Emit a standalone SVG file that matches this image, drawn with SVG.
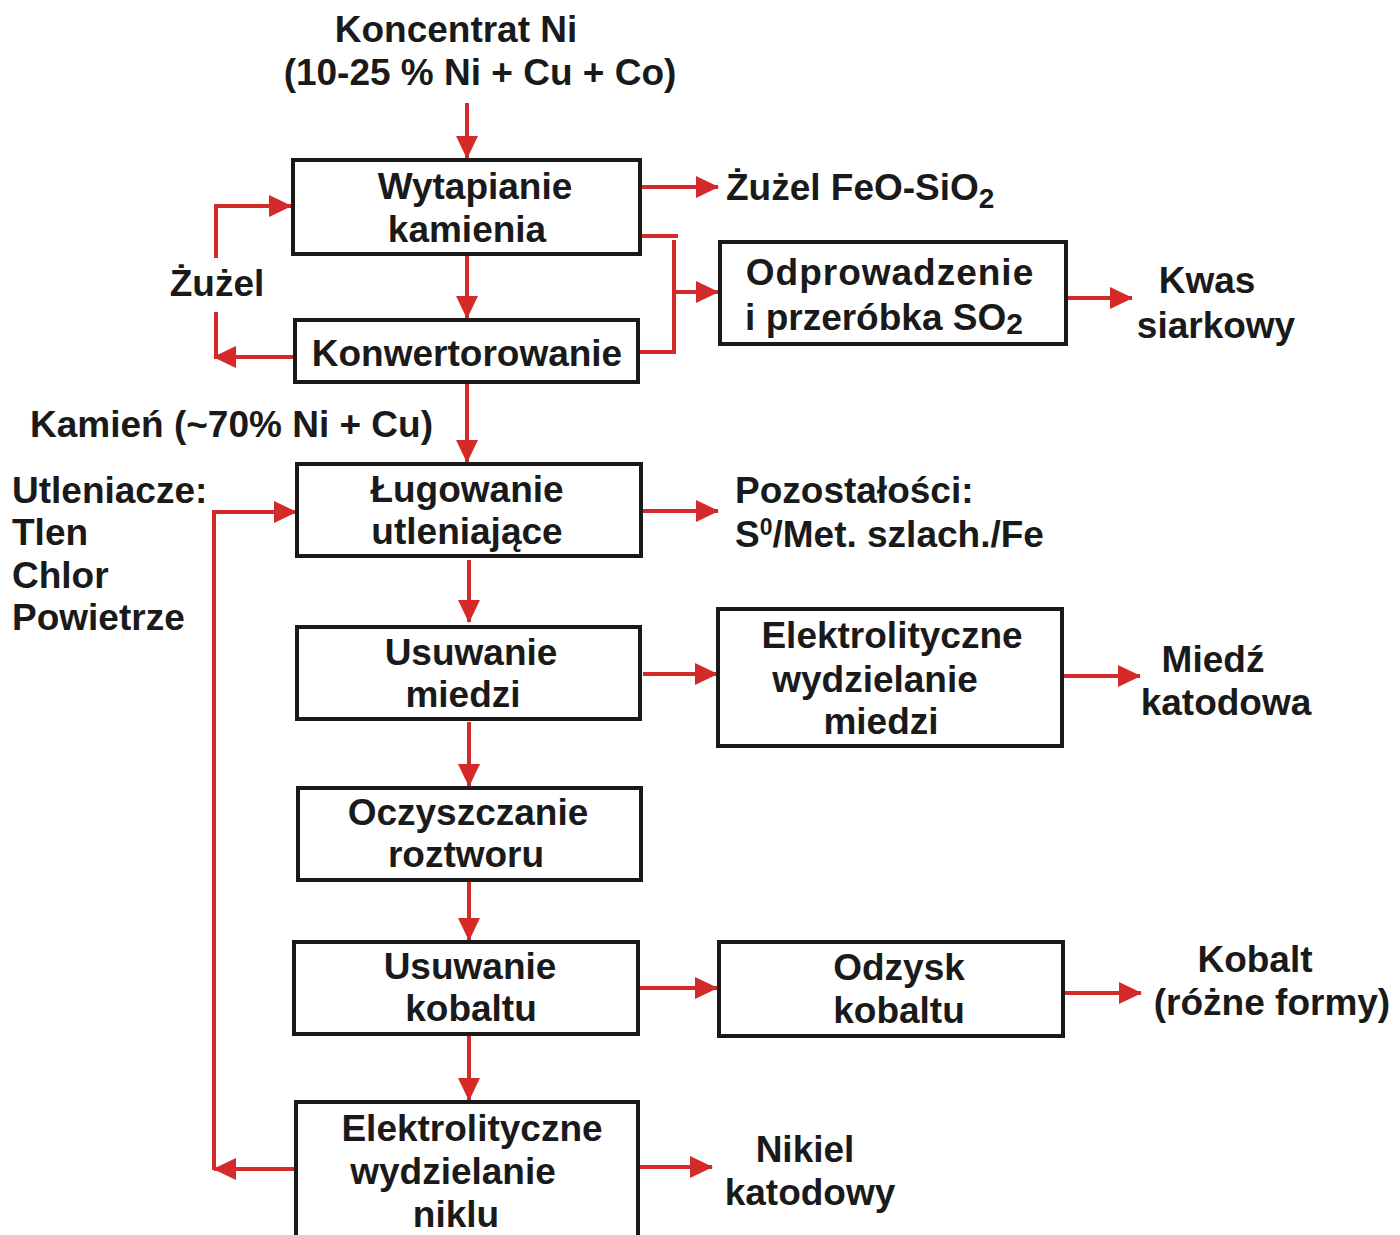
<svg xmlns="http://www.w3.org/2000/svg" width="1400" height="1235" viewBox="0 0 1400 1235">
<defs>
<marker id="ah" markerUnits="userSpaceOnUse" markerWidth="24" markerHeight="22" refX="22" refY="11" orient="auto">
<path d="M0,0 L23,11 L0,22 z" fill="#d42a2a"/>
</marker>
<style>
.box{fill:#fff;stroke:#1a1a1a;stroke-width:4}
.t{font-family:"Liberation Sans",Arial,sans-serif;font-weight:bold;font-size:37px;fill:#1a1a1a}
.c{text-anchor:middle}
.ln{fill:none;stroke:#d42a2a;stroke-width:4}
.ar{fill:none;stroke:#d42a2a;stroke-width:4;marker-end:url(#ah)}
</style>
</defs>
<rect width="1400" height="1235" fill="#fff"/>

<g id="connectors">
<line class="ar" x1="467" y1="103" x2="467" y2="158"/>
<line class="ar" x1="467" y1="256" x2="467" y2="318"/>
<line class="ar" x1="467" y1="384" x2="467" y2="462"/>
<line class="ar" x1="469" y1="560" x2="469" y2="622"/>
<line class="ar" x1="469" y1="722" x2="469" y2="786"/>
<line class="ar" x1="469" y1="882" x2="469" y2="940"/>
<line class="ar" x1="469" y1="1036" x2="469" y2="1100"/>
<line class="ar" x1="642" y1="187" x2="718" y2="187"/>
<polyline class="ln" points="642,236 678,236"/>
<polyline class="ln" points="640,352 674,352 674,240"/>
<line class="ar" x1="674" y1="292" x2="718" y2="292"/>
<line class="ar" x1="1058" y1="298" x2="1132" y2="298"/>
<polyline class="ln" points="216,258 216,206"/>
<line class="ar" x1="214" y1="206" x2="291" y2="206"/>
<polyline class="ln" points="216,312 216,358"/>
<line class="ar" x1="293" y1="357" x2="214" y2="357"/>
<line class="ar" x1="643" y1="511" x2="718" y2="511"/>
<line class="ar" x1="643" y1="674" x2="717" y2="674"/>
<line class="ar" x1="1064" y1="676" x2="1140" y2="676"/>
<line class="ar" x1="640" y1="988" x2="717" y2="988"/>
<line class="ar" x1="1065" y1="993" x2="1141" y2="993"/>
<line class="ar" x1="640" y1="1167" x2="712" y2="1167"/>
<polyline class="ar" points="214,1170 214,512 296,512"/>
<line class="ar" x1="296" y1="1169" x2="214" y2="1169"/>
</g>

<g id="n-input">
<text class="t c" x="456" y="42">Koncentrat Ni</text>
<text class="t c" x="480" y="85">(10-25 % Ni + Cu + Co)</text>
</g>
<g id="n-wytapianie">
<rect class="box" x="293" y="160" width="347" height="94"/>
<text class="t c" x="475" y="199">Wytapianie</text>
<text class="t c" x="467" y="242">kamienia</text>
</g>
<g id="n-konwertorowanie">
<rect class="box" x="295" y="320" width="343" height="62"/>
<text class="t c" x="467" y="366">Konwertorowanie</text>
</g>
<g id="n-zuzel-feo">
<text class="t" x="726" y="200">Żużel FeO-SiO<tspan font-size="28" dy="8">2</tspan></text>
</g>
<g id="n-odprowadzenie">
<rect class="box" x="720" y="242" width="346" height="102"/>
<text class="t c" x="890" y="285" letter-spacing="1">Odprowadzenie</text>
<text class="t c" x="884" y="330">i przeróbka SO<tspan font-size="30" dy="4">2</tspan></text>
</g>
<g id="n-kwas">
<text class="t c" x="1207" y="293">Kwas</text>
<text class="t c" x="1216" y="338">siarkowy</text>
</g>
<g id="n-zuzel">
<text class="t c" x="217" y="296">Żużel</text>
</g>
<g id="n-kamien">
<text class="t" x="30" y="437">Kamień (~70% Ni + Cu)</text>
</g>
<g id="n-utleniacze">
<text class="t" x="12" y="503">Utleniacze:</text>
<text class="t" x="12" y="545">Tlen</text>
<text class="t" x="12" y="588">Chlor</text>
<text class="t" x="12" y="630">Powietrze</text>
</g>
<g id="n-lugowanie">
<rect class="box" x="297" y="464" width="344" height="92"/>
<text class="t c" x="467" y="502">Ługowanie</text>
<text class="t c" x="467" y="544">utleniające</text>
</g>
<g id="n-pozostalosci">
<text class="t" x="735" y="503">Pozostałości:</text>
<text class="t" x="735" y="547">S<tspan font-size="23" dy="-12">0</tspan><tspan dy="12">/Met. szlach./Fe</tspan></text>
</g>
<g id="n-usuwanie-miedzi">
<rect class="box" x="297" y="627" width="343" height="92"/>
<text class="t c" x="471" y="665">Usuwanie</text>
<text class="t c" x="463" y="707">miedzi</text>
</g>
<g id="n-elektro-miedzi">
<rect class="box" x="718" y="609" width="344" height="137"/>
<text class="t c" x="892" y="648">Elektrolityczne</text>
<text class="t c" x="875" y="692">wydzielanie</text>
<text class="t c" x="881" y="734">miedzi</text>
</g>
<g id="n-miedz">
<text class="t c" x="1213" y="672">Miedź</text>
<text class="t c" x="1226" y="715">katodowa</text>
</g>
<g id="n-oczyszczanie">
<rect class="box" x="298" y="788" width="343" height="92"/>
<text class="t c" x="468" y="825">Oczyszczanie</text>
<text class="t c" x="466" y="867">roztworu</text>
</g>
<g id="n-usuwanie-kobaltu">
<rect class="box" x="294" y="942" width="344" height="92"/>
<text class="t c" x="470" y="979">Usuwanie</text>
<text class="t c" x="471" y="1021">kobaltu</text>
</g>
<g id="n-odzysk">
<rect class="box" x="719" y="942" width="344" height="94"/>
<text class="t c" x="899" y="980">Odzysk</text>
<text class="t c" x="899" y="1023">kobaltu</text>
</g>
<g id="n-kobalt">
<text class="t c" x="1255" y="972">Kobalt</text>
<text class="t c" x="1272" y="1015">(różne formy)</text>
</g>
<g id="n-elektro-niklu">
<rect class="box" x="296" y="1102" width="342" height="150"/>
<text class="t c" x="472" y="1141">Elektrolityczne</text>
<text class="t c" x="453" y="1184">wydzielanie</text>
<text class="t c" x="456" y="1227">niklu</text>
</g>
<g id="n-nikiel">
<text class="t c" x="805" y="1162">Nikiel</text>
<text class="t c" x="810" y="1205">katodowy</text>
</g>
</svg>
